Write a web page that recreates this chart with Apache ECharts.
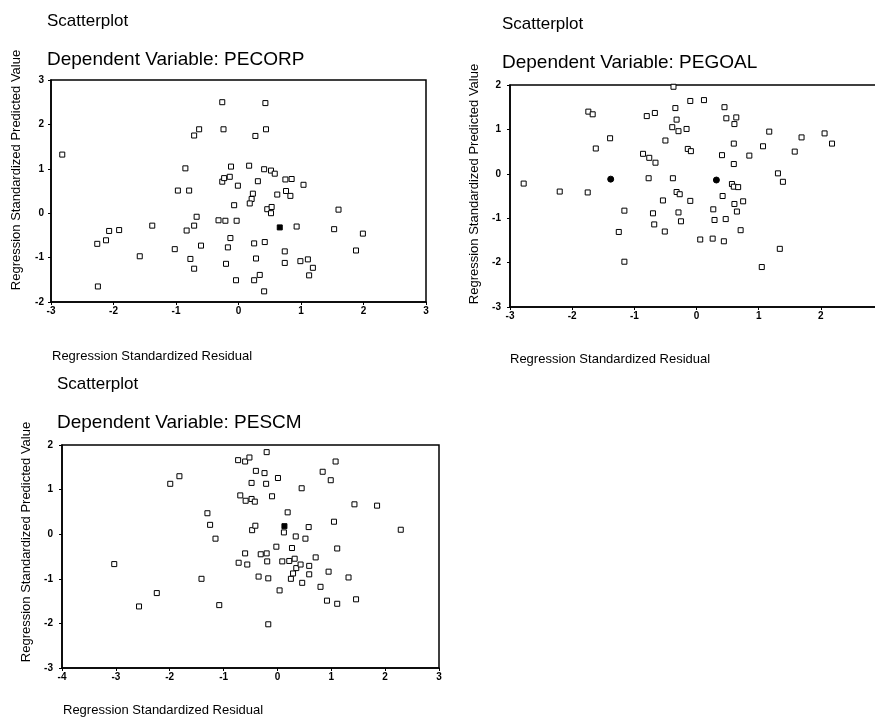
<!DOCTYPE html>
<html>
<head>
<meta charset="utf-8">
<script src="https://cdn.jsdelivr.net/npm/echarts@6/dist/echarts.min.js"></script>
<style>
  html, body { margin: 0; padding: 0; background: #fff; overflow: hidden; }
  /* wider than the window on purpose: the right plot runs off the page edge */
  #chart { width: 895px; height: 722px; }
</style>
</head>
<body>
<div id="chart"></div>
<script>
// residual / predicted pairs
const pecorpPoints = [
  [-2.82, 1.32], [-2.26, -0.69], [-2.12, -0.61], [-2.07, -0.40], [-1.91, -0.38],
  [-2.25, -1.65], [-1.58, -0.97], [-1.38, -0.28], [-1.02, -0.81], [-0.97, 0.51],
  [-0.85, 1.01], [-0.83, -0.39], [-0.79, 0.51], [-0.77, -1.03], [-0.71, 1.75],
  [-0.63, 1.89], [-0.71, -0.28], [-0.67, -0.08], [-0.71, -1.25], [-0.60, -0.73],
  [-0.26, 2.50], [-0.24, 1.89], [-0.26, 0.71], [-0.23, 0.79], [-0.14, 0.82],
  [-0.12, 1.05], [-0.32, -0.16], [-0.21, -0.17], [-0.13, -0.56], [-0.17, -0.77],
  [-0.20, -1.14], [-0.07, 0.18], [-0.03, -0.17], [-0.04, -1.51], [-0.01, 0.62],
  [0.17, 1.07], [0.43, 2.48], [0.27, 1.74], [0.44, 1.89], [0.41, 0.99],
  [0.31, 0.72], [0.52, 0.96], [0.58, 0.89], [0.23, 0.44], [0.21, 0.32],
  [0.18, 0.22], [0.46, 0.09], [0.53, 0.14], [0.52, 0.00], [0.62, 0.42],
  [0.75, 0.76], [0.85, 0.77], [0.76, 0.50], [0.83, 0.39], [1.04, 0.64],
  [0.25, -0.68], [0.42, -0.65], [0.28, -1.02], [0.25, -1.51], [0.34, -1.39],
  [0.41, -1.76], [0.74, -0.86], [0.74, -1.12], [0.93, -0.30], [0.99, -1.08],
  [1.11, -1.04], [1.19, -1.23], [1.13, -1.40], [1.53, -0.36], [1.60, 0.08],
  [1.99, -0.46], [1.88, -0.84]
];
const pecorpOverlap = [[0.66, -0.32]];

const pegoalPoints = [
  [-2.78, -0.22], [-2.20, -0.40], [-1.75, -0.42], [-1.74, 1.40], [-1.67, 1.34],
  [-1.62, 0.57], [-1.39, 0.80], [-1.16, -0.83], [-1.16, -1.98], [-1.25, -1.31],
  [-0.86, 0.45], [-0.80, 1.30], [-0.76, 0.36], [-0.77, -0.10], [-0.67, 1.37],
  [-0.66, 0.25], [-0.70, -0.89], [-0.68, -1.14], [-0.54, -0.60], [-0.51, -1.30],
  [-0.50, 0.75], [-0.37, 1.96], [-0.34, 1.48], [-0.32, 1.22], [-0.39, 1.05],
  [-0.29, 0.96], [-0.38, -0.10], [-0.32, -0.41], [-0.27, -0.46], [-0.29, -0.87],
  [-0.25, -1.07], [-0.16, 1.01], [-0.14, 0.56], [-0.09, 0.51], [-0.10, 1.64],
  [-0.10, -0.61], [0.12, 1.66], [0.06, -1.48], [0.27, -0.80], [0.29, -1.04],
  [0.26, -1.46], [0.42, -0.50], [0.41, 0.42], [0.44, -1.52], [0.45, 1.50],
  [0.48, 1.25], [0.47, -1.02], [0.60, 0.68], [0.60, 0.22], [0.57, -0.23],
  [0.60, -0.29], [0.67, -0.30], [0.61, -0.68], [0.64, 1.27], [0.61, 1.12],
  [0.65, -0.85], [0.71, -1.27], [0.75, -0.62], [0.85, 0.41], [1.07, 0.62],
  [1.17, 0.95], [1.05, -2.10], [1.31, 0.01], [1.39, -0.18], [1.34, -1.69],
  [1.58, 0.50], [1.69, 0.82], [2.06, 0.91], [2.18, 0.68]
];
const pegoalOverlap = [[-1.38, -0.12], [0.32, -0.14]];

const pescmPoints = [
  [-3.03, -0.67], [-2.57, -1.62], [-2.24, -1.32], [-1.99, 1.13], [-1.82, 1.30],
  [-1.41, -1.00], [-1.30, 0.47], [-1.25, 0.21], [-1.15, -0.10], [-1.08, -1.59],
  [-0.73, 1.66], [-0.60, 1.63], [-0.52, 1.72], [-0.69, 0.87], [-0.59, 0.75],
  [-0.48, 0.79], [-0.42, 0.73], [-0.40, 1.42], [-0.48, 1.15], [-0.47, 0.09],
  [-0.41, 0.19], [-0.60, -0.43], [-0.72, -0.64], [-0.56, -0.68], [-0.31, -0.45],
  [-0.35, -0.95], [-0.20, 1.84], [-0.24, 1.37], [-0.21, 1.13], [0.01, 1.26],
  [-0.10, 0.85], [-0.20, -0.43], [-0.19, -0.61], [-0.17, -0.99], [-0.17, -2.02],
  [-0.02, -0.28], [0.04, -1.26], [0.09, -0.61], [0.12, 0.04], [0.19, 0.49],
  [0.22, -0.60], [0.27, -0.31], [0.32, -0.55], [0.34, -0.05], [0.25, -1.00],
  [0.29, -0.88], [0.35, -0.76], [0.43, -0.68], [0.45, 1.03], [0.46, -1.09],
  [0.52, -0.10], [0.58, 0.16], [0.59, -0.71], [0.59, -0.90], [0.71, -0.52],
  [0.80, -1.18], [0.84, 1.40], [0.95, -0.84], [0.92, -1.49], [0.99, 1.21],
  [1.05, 0.28], [1.08, 1.63], [1.11, -0.32], [1.11, -1.56], [1.32, -0.97],
  [1.43, 0.67], [1.46, -1.46], [1.85, 0.64], [2.29, 0.10]
];
const pescmOverlap = [[0.13, 0.18]];

const dependentNames = ['PECORP', 'PEGOAL', 'PESCM'];
const xRanges = [[-3, 3], [-3, 3], [-4, 3]];
const yRanges = [[-2, 3], [-3, 2], [-3, 2]];

const chart = echarts.init(document.getElementById('chart'));

const grids = [
  { left: 51, top: 80, width: 375, height: 222 },
  { left: 510, top: 85, width: 373, height: 222 },
  { left: 62, top: 445, width: 377, height: 223 }
];

const tickLabel = { color: '#000', fontFamily: 'Arial, Liberation Sans, sans-serif', fontSize: 10, fontWeight: 'bold' };
const axisLine = { show: true, onZero: false, lineStyle: { color: '#000', width: 1.5 } };
const axisTick = { show: true, length: 3, lineStyle: { color: '#000', width: 1 } };

const xAxes = xRanges.map((r, i) => ({
  gridIndex: i, type: 'value', min: r[0], max: r[1], interval: 1,
  axisLine, axisTick, splitLine: { show: false },
  axisLabel: { ...tickLabel, margin: 4, showMaxLabel: true }
}));
const yAxes = yRanges.map((r, i) => ({
  gridIndex: i, type: 'value', min: r[0], max: r[1], interval: 1,
  axisLine, axisTick, splitLine: { show: false },
  axisLabel: { ...tickLabel, margin: [7, 9, 9][i] }
}));

const openSquare = (data, i) => ({
  type: 'scatter', xAxisIndex: i, yAxisIndex: i, data,
  symbol: 'rect', symbolSize: 5,
  itemStyle: { color: '#fff', borderColor: '#000', borderWidth: 1, opacity: 1 }
});
const filledDot = (data, i, symbol, size) => ({
  type: 'scatter', xAxisIndex: i, yAxisIndex: i, data,
  symbol, symbolSize: size,
  itemStyle: { color: '#000', borderColor: '#000', borderWidth: 1, opacity: 1 }
});

const titleFont = 'Arial, Liberation Sans, sans-serif';
const titlePos = [[47, 13, 50], [502, 16, 53], [57, 376, 413]];
const titles = [];
titlePos.forEach((p, i) => {
  titles.push({ text: 'Scatterplot', left: p[0], top: p[1], padding: 0,
    textStyle: { fontFamily: titleFont, fontSize: 17, fontWeight: 'normal', color: '#000' } });
  titles.push({ text: 'Dependent Variable: ' + dependentNames[i], left: p[0], top: p[2], padding: 0,
    textStyle: { fontFamily: titleFont, fontSize: 19, fontWeight: 'normal', color: '#000' } });
});
const xNamePos = [[52, 350], [510, 353], [63, 704]];
xNamePos.forEach(p => {
  titles.push({ text: 'Regression Standardized Residual', left: p[0], top: p[1], padding: 0,
    textStyle: { fontFamily: titleFont, fontSize: 13, fontWeight: 'normal', color: '#000' } });
});

const yNamePos = [[16, 170], [474, 184], [26, 542]];
const graphics = yNamePos.map(p => ({
  type: 'text', x: p[0], y: p[1], rotation: Math.PI / 2,
  style: { text: 'Regression Standardized Predicted Value', fill: '#000',
    font: '13px Arial, Liberation Sans, sans-serif', align: 'center', verticalAlign: 'middle' }
}));

chart.setOption({
  animation: false,
  backgroundColor: '#fff',
  title: titles,
  grid: grids.map(g => ({ ...g, show: true, borderColor: '#000', borderWidth: 1.5 })),
  xAxis: xAxes,
  yAxis: yAxes,
  graphic: graphics,
  series: [
    openSquare(pecorpPoints, 0),
    filledDot(pecorpOverlap, 0, 'rect', 5),
    openSquare(pegoalPoints, 1),
    filledDot(pegoalOverlap, 1, 'circle', 6),
    openSquare(pescmPoints, 2),
    filledDot(pescmOverlap, 2, 'rect', 5)
  ]
});
</script>
</body>
</html>
